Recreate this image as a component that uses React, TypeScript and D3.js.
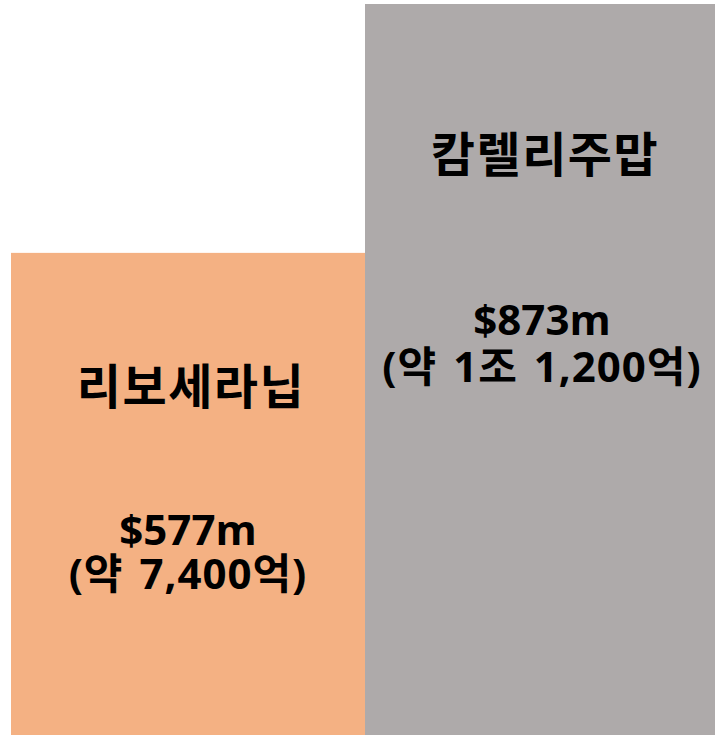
import React from "react";
import * as d3 from "d3";

const drugs = ["리보세라닙", "캄렐리주맙"];
const salesUsdM = [577, 873];
const valueLabels = ["$577m", "$873m"];
const krwLabels = ["(약 7,400억)", "(약 1조 1,200억)"];
const colors = ["#F4B183", "#AEAAAA"];

const W = 715;
const H = 735;

export default function App() {
  const x = d3.scaleBand<string>().domain(drugs).range([11, 719]).padding(0);
  const y = d3.scaleLinear().domain([0, 873]).range([738, 4]);
  // label offsets from bar top: [title, value, krw]
  const offsets = [
    [151, 292, 336],
    [168, 331, 378],
  ];
  const font = "'Open Sans', 'Noto Sans CJK KR', sans-serif";
  return (
    <div style={{ position: "absolute", left: 0, top: 0 }}>
      <svg width={W} height={H} style={{ display: "block" }}>
        <rect x={0} y={0} width={W} height={H} fill="#ffffff" />
        {drugs.map((d, i) => {
          const x0 = x(d)!;
          const top = y(salesUsdM[i]);
          const cx = x0 + x.bandwidth() / 2;
          return (
            <g key={d}>
              <rect x={x0} y={top} width={x.bandwidth()} height={y(0) - top} fill={colors[i]} />
              <text x={cx + 3} y={top + offsets[i][0]} textAnchor="middle" fontFamily={font} fontWeight={700} fontSize={48} letterSpacing={1.5} fill="#000">
                {d}
              </text>
              <text x={cx} y={top + offsets[i][1]} textAnchor="middle" fontFamily={font} fontWeight={700} fontSize={42} fill="#000">
                {valueLabels[i]}
              </text>
              <text x={cx} y={top + offsets[i][2]} textAnchor="middle" fontFamily={font} fontWeight={700} fontSize={42} letterSpacing={1} wordSpacing={4} fill="#000">
                {krwLabels[i]}
              </text>
            </g>
          );
        })}
      </svg>
    </div>
  );
}
